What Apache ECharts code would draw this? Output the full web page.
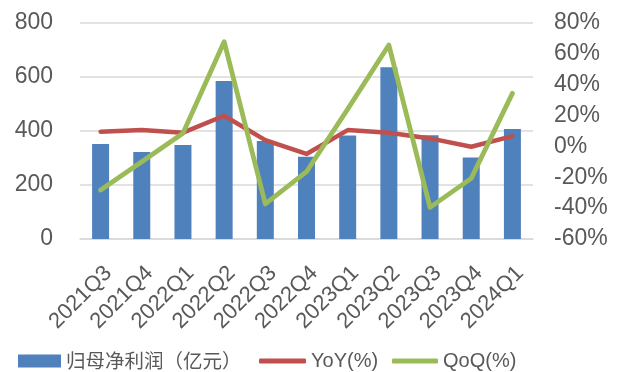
<!DOCTYPE html>
<html>
<head>
<meta charset="utf-8">
<script src="https://cdn.jsdelivr.net/npm/echarts@6/dist/echarts.min.js"></script>
<style>
  html, body { margin: 0; padding: 0; background: #fff; }
  #chart { width: 627px; height: 372px; }
</style>
</head>
<body>
<div id="chart"></div>
<script>
// Quarterly attributable net profit (100m CNY) with YoY / QoQ growth (%)
const quarters = ['2021Q3', '2021Q4', '2022Q1', '2022Q2', '2022Q3', '2022Q4',
                  '2023Q1', '2023Q2', '2023Q3', '2023Q4', '2024Q1'];
const netProfit = [352, 322, 348, 585, 363, 305, 383, 636, 384, 302, 407];
const yoy = [9.5, 10.6, 8.9, 19.9, 4.1, -4.9, 10.6, 8.9, 5.2, -0.2, 6.7];
const qoq = [-28.3, -9.9, 8.5, 67.9, -37.3, -16.4, 24.2, 65.7, -39.5, -20.7, 34.4];
const leftTicks = { min: 0, max: 800, interval: 200 };
const rightTicks = { min: -60, max: 80, interval: 20 };

const FONT = '"Liberation Sans", Arial, sans-serif';
const GREY = '#595959';
const BLUE = '#4F81BD', RED = '#C0504D', GREEN = '#9BBB59';

const chart = echarts.init(document.getElementById('chart'));

const legendBase = {
  top: 351,
  padding: 0,
  orient: 'horizontal',
  itemGap: 0,
  textStyle: { color: GREY, fontSize: 20, fontFamily: FONT, lineHeight: 20 }
};

chart.setOption({
  animation: false,
  grid: { left: 80, right: 94, top: 23, bottom: 133 },
  legend: [
    Object.assign({}, legendBase, {
      left: 18, itemWidth: 43, itemHeight: 13, icon: 'rect',
      data: ['归母净利润（亿元）'],
      textStyle: { color: GREY, fontSize: 19.5, lineHeight: 20,
                   fontFamily: '"Noto Sans CJK SC", sans-serif' }
    }),
    Object.assign({}, legendBase, {
      left: 259, itemWidth: 47, itemHeight: 5, icon: 'roundRect',
      data: ['YoY(%)']
    }),
    Object.assign({}, legendBase, {
      left: 392, itemWidth: 46, itemHeight: 5, icon: 'roundRect',
      data: ['QoQ(%)']
    })
  ],
  xAxis: {
    type: 'category',
    data: quarters,
    axisLine: { show: true, lineStyle: { color: '#D9D9D9', width: 1.5 } },
    axisTick: { show: false },
    axisLabel: {
      interval: 0, rotate: 45, margin: 23, verticalAlign: 'top',
      color: GREY, fontSize: 22, fontFamily: FONT
    }
  },
  yAxis: [
    {
      type: 'value',
      min: leftTicks.min, max: leftTicks.max, interval: leftTicks.interval,
      axisLine: { show: false }, axisTick: { show: false },
      axisLabel: { color: GREY, fontSize: 23, fontFamily: FONT, margin: 27 },
      splitLine: { lineStyle: { color: '#D9D9D9', width: 1.5 } }
    },
    {
      type: 'value',
      min: rightTicks.min, max: rightTicks.max, interval: rightTicks.interval,
      axisLine: { show: false }, axisTick: { show: false },
      axisLabel: { color: GREY, fontSize: 23, fontFamily: FONT, margin: 21,
                   formatter: v => v + '%' },
      splitLine: { show: false }
    }
  ],
  series: [
    {
      name: '归母净利润（亿元）', type: 'bar', data: netProfit,
      barWidth: 17, itemStyle: { color: BLUE }
    },
    {
      name: 'YoY(%)', type: 'line', yAxisIndex: 1, data: yoy,
      symbol: 'none', itemStyle: { color: RED },
      lineStyle: { color: RED, width: 4.5, cap: 'round', join: 'round' }
    },
    {
      name: 'QoQ(%)', type: 'line', yAxisIndex: 1, data: qoq,
      symbol: 'none', itemStyle: { color: GREEN },
      lineStyle: { color: GREEN, width: 4.8, cap: 'round', join: 'round' }
    }
  ]
});
</script>
</body>
</html>
